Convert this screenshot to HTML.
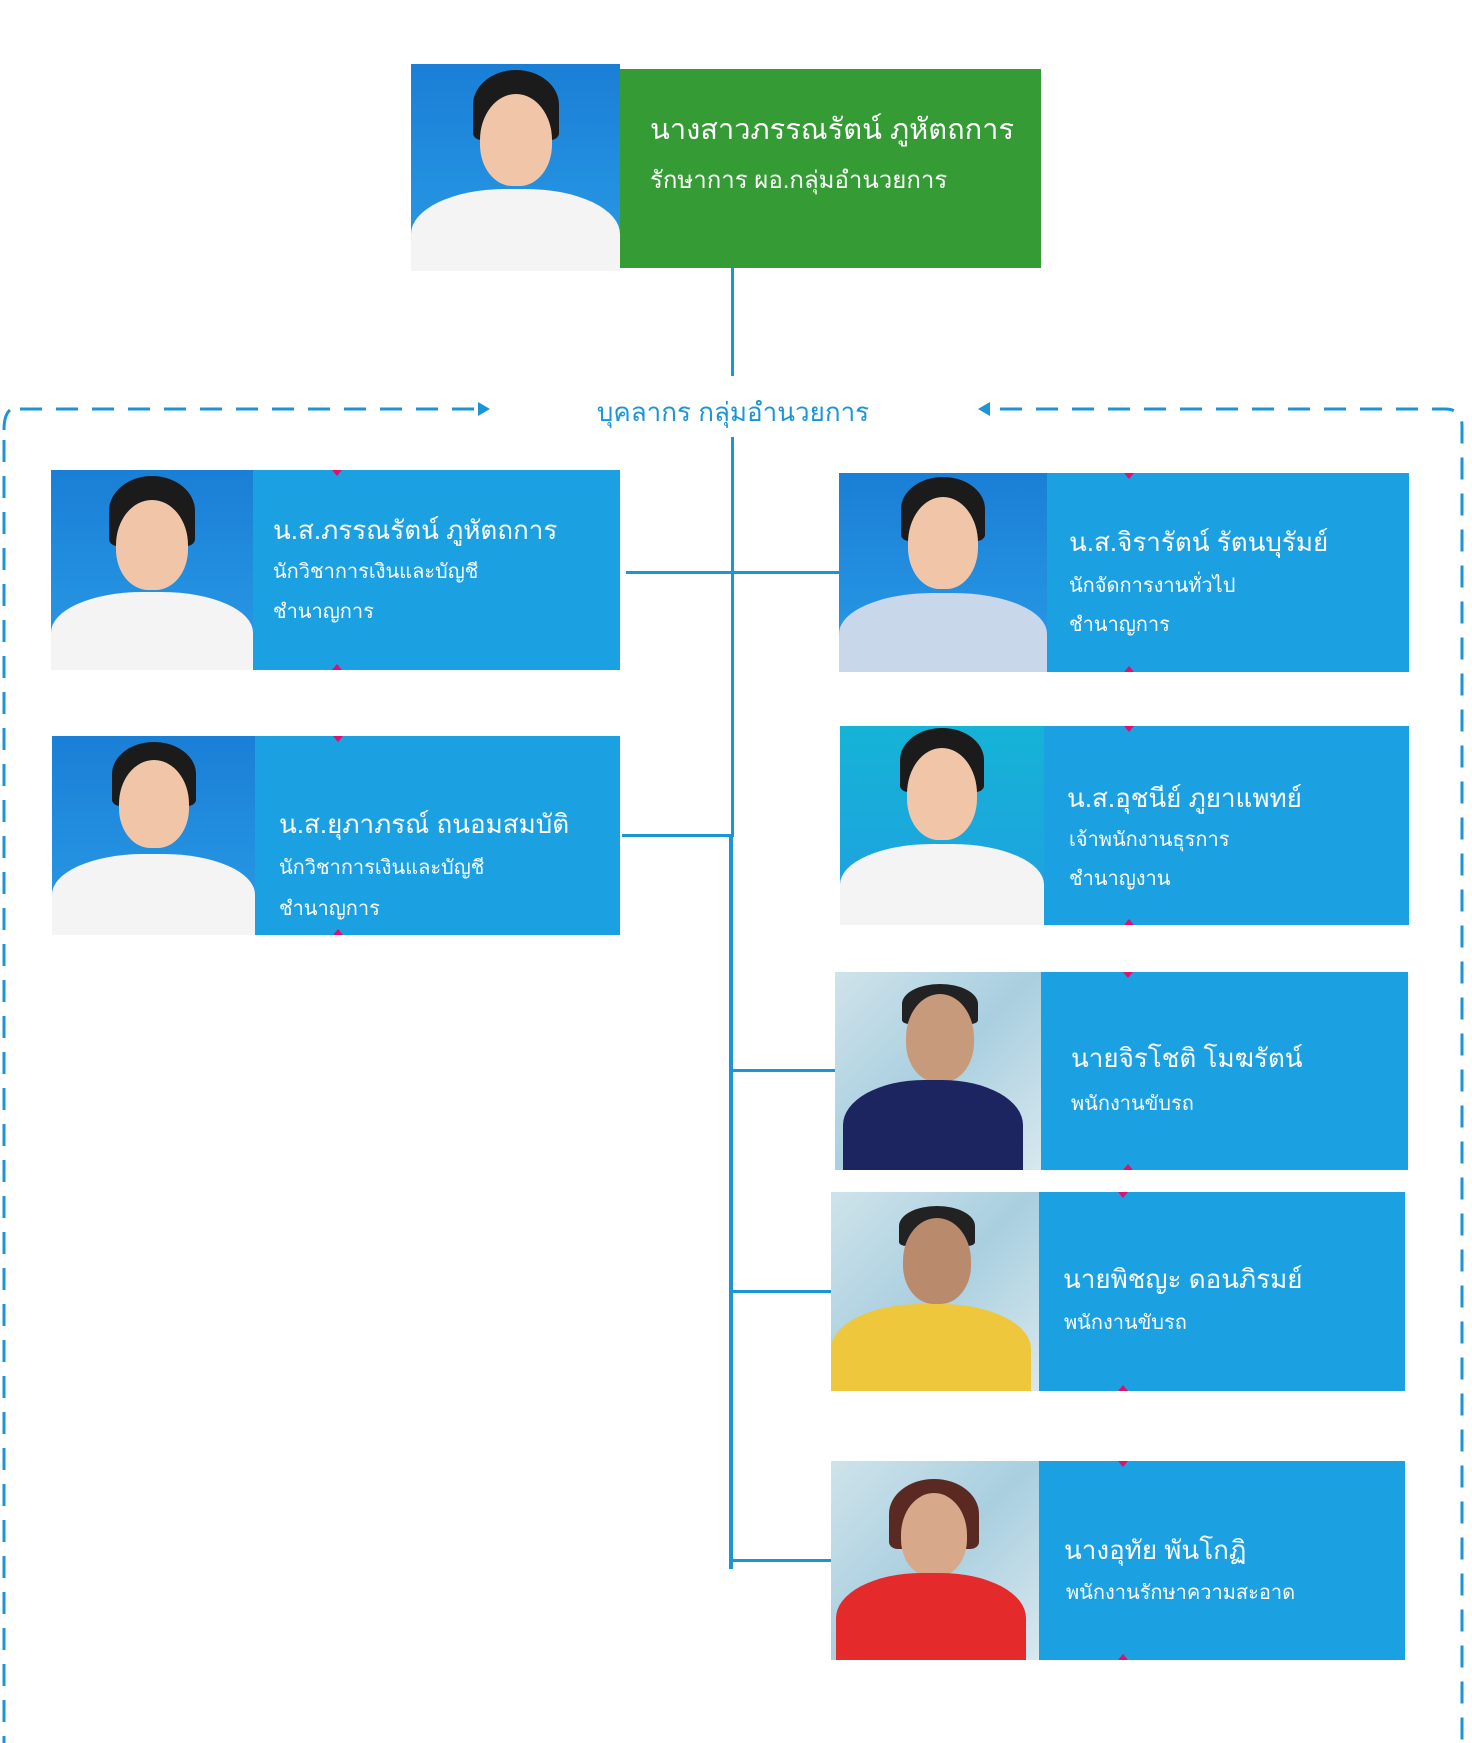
<!DOCTYPE html>
<html><head><meta charset="utf-8"><style>
body{margin:0;width:1472px;height:1743px;background:#fff;position:relative;overflow:hidden;font-family:"Liberation Sans","DejaVu Sans",sans-serif}
.a{position:absolute}
.blue{background:#1ba1e2}
.ph{position:absolute;overflow:hidden;background:linear-gradient(#1a7fd6,#2a9be6)}
.ph.t{background:linear-gradient(#15b3d6,#1fa0e0)}
.ph.w{background:linear-gradient(135deg,#cfe3ea,#a9cfe0 50%,#d8e8ee)}
.head{position:absolute;border-radius:50% 50% 45% 45%;background:#f1c6a8}
.hair{position:absolute;border-radius:50% 50% 10% 10%;background:#1b1b1b}
.body{position:absolute;border-radius:45% 45% 0 0}
.tx{position:absolute;color:#fff;white-space:nowrap}
.n{font-size:26px}
.s{font-size:20px}
.ln{position:absolute;background:#1b95d6}
.mk{position:absolute;width:0;height:0;border-left:5px solid transparent;border-right:5px solid transparent}
.mt{border-top:6px solid #e0106c}
.mb{border-bottom:6px solid #e0106c}
</style></head><body>

<div class="ph" style="left:411px;top:64px;width:209px;height:207px">
 <div class="hair" style="left:62px;top:6px;width:86px;height:70px"></div>
 <div class="head" style="left:69px;top:30px;width:72px;height:92px"></div>
 <div class="body" style="left:0;top:125px;width:209px;height:100px;background:#f4f4f4"></div>
</div>
<div class="a" style="left:620px;top:69px;width:421px;height:199px;background:#359b35"></div>
<div class="tx" style="left:650px;top:106px;font-size:29px">นางสาวภรรณรัตน์ ภูหัตถการ</div>
<div class="tx" style="left:650px;top:160px;font-size:24px">รักษาการ ผอ.กลุ่มอำนวยการ</div>

<div class="ln" style="left:731px;top:268px;width:3px;height:108px"></div>
<div class="a" style="left:560px;top:392px;width:346px;text-align:center;color:#1b95d6;font-size:26px">บุคลากร กลุ่มอำนวยการ</div>

<svg class="a" style="left:0;top:0" width="1472" height="1743">
 <g stroke="#1b95d6" stroke-width="3" fill="none" stroke-dasharray="22,14">
  <path d="M20 409 H478"/>
  <path d="M1000 409 H1445 Q1462 409 1462 426 V1743"/>
  <path d="M4 430 Q4 415 10 410"/>
  <path d="M4 440 V1743"/>
 </g>
 <path d="M478 402 L490 409 L478 416Z" fill="#1b95d6"/>
 <path d="M990 402 L978 409 L990 416Z" fill="#1b95d6"/>
</svg>

<div class="ln" style="left:731px;top:437px;width:3px;height:400px"></div>
<div class="ln" style="left:729px;top:835px;width:4px;height:734px"></div>
<div class="ln" style="left:626px;top:571px;width:213px;height:3px"></div>
<div class="ln" style="left:622px;top:834px;width:110px;height:3px"></div>
<div class="ln" style="left:731px;top:1069px;width:104px;height:3px"></div>
<div class="ln" style="left:731px;top:1290px;width:100px;height:3px"></div>
<div class="ln" style="left:731px;top:1559px;width:100px;height:3px"></div>

<div class="ph" style="left:51px;top:470px;width:202px;height:200px">
 <div class="hair" style="left:58px;top:6px;width:86px;height:70px"></div>
 <div class="head" style="left:65px;top:30px;width:72px;height:90px"></div>
 <div class="body" style="left:0;top:122px;width:202px;height:90px;background:#f4f4f4"></div>
</div>
<div class="a blue" style="left:253px;top:470px;width:367px;height:200px"></div>
<div class="mk mt" style="left:332px;top:470px"></div><div class="mk mb" style="left:332px;top:664px"></div>
<div class="tx n" style="left:273px;top:510px">น.ส.ภรรณรัตน์ ภูหัตถการ</div>
<div class="tx s" style="left:273px;top:555px">นักวิชาการเงินและบัญชี</div>
<div class="tx s" style="left:273px;top:595px">ชำนาญการ</div>

<div class="ph" style="left:52px;top:736px;width:203px;height:199px">
 <div class="hair" style="left:60px;top:6px;width:84px;height:64px"></div>
 <div class="head" style="left:67px;top:24px;width:70px;height:88px"></div>
 <div class="body" style="left:0;top:118px;width:203px;height:90px;background:#f4f4f4"></div>
</div>
<div class="a blue" style="left:255px;top:736px;width:365px;height:199px"></div>
<div class="mk mt" style="left:333px;top:736px"></div><div class="mk mb" style="left:333px;top:929px"></div>
<div class="tx n" style="left:279px;top:804px">น.ส.ยุภาภรณ์ ถนอมสมบัติ</div>
<div class="tx s" style="left:279px;top:851px">นักวิชาการเงินและบัญชี</div>
<div class="tx s" style="left:279px;top:892px">ชำนาญการ</div>

<div class="ph" style="left:839px;top:473px;width:208px;height:199px">
 <div class="hair" style="left:62px;top:4px;width:84px;height:64px"></div>
 <div class="head" style="left:69px;top:24px;width:70px;height:92px"></div>
 <div class="body" style="left:0;top:120px;width:208px;height:90px;background:#c9d7ea"></div>
</div>
<div class="a blue" style="left:1047px;top:473px;width:362px;height:199px"></div>
<div class="mk mt" style="left:1124px;top:473px"></div><div class="mk mb" style="left:1124px;top:666px"></div>
<div class="tx n" style="left:1069px;top:522px">น.ส.จิรารัตน์ รัตนบุรัมย์</div>
<div class="tx s" style="left:1069px;top:569px">นักจัดการงานทั่วไป</div>
<div class="tx s" style="left:1069px;top:608px">ชำนาญการ</div>

<div class="ph t" style="left:840px;top:726px;width:204px;height:199px">
 <div class="hair" style="left:60px;top:2px;width:84px;height:64px"></div>
 <div class="head" style="left:67px;top:22px;width:70px;height:92px"></div>
 <div class="body" style="left:0;top:118px;width:204px;height:90px;background:#f4f4f4"></div>
</div>
<div class="a blue" style="left:1044px;top:726px;width:365px;height:199px"></div>
<div class="mk mt" style="left:1124px;top:726px"></div><div class="mk mb" style="left:1124px;top:919px"></div>
<div class="tx n" style="left:1067px;top:778px">น.ส.อุชนีย์ ภูยาแพทย์</div>
<div class="tx s" style="left:1069px;top:823px">เจ้าพนักงานธุรการ</div>
<div class="tx s" style="left:1069px;top:862px">ชำนาญงาน</div>

<div class="ph w" style="left:835px;top:972px;width:206px;height:198px">
 <div class="hair" style="left:67px;top:12px;width:76px;height:40px;background:#222"></div>
 <div class="head" style="left:71px;top:22px;width:68px;height:88px;background:#c79a7c"></div>
 <div class="body" style="left:8px;top:108px;width:180px;height:100px;background:#1d2560"></div>
</div>
<div class="a blue" style="left:1041px;top:972px;width:367px;height:198px"></div>
<div class="mk mt" style="left:1123px;top:972px"></div><div class="mk mb" style="left:1123px;top:1164px"></div>
<div class="tx n" style="left:1071px;top:1038px">นายจิรโชติ โมฆรัตน์</div>
<div class="tx s" style="left:1071px;top:1087px">พนักงานขับรถ</div>

<div class="ph w" style="left:831px;top:1192px;width:208px;height:199px">
 <div class="hair" style="left:68px;top:14px;width:76px;height:40px;background:#222"></div>
 <div class="head" style="left:72px;top:26px;width:68px;height:86px;background:#b98a6c"></div>
 <div class="body" style="left:0;top:112px;width:200px;height:100px;background:#efc73c"></div>
</div>
<div class="a blue" style="left:1039px;top:1192px;width:366px;height:199px"></div>
<div class="mk mt" style="left:1118px;top:1192px"></div><div class="mk mb" style="left:1118px;top:1385px"></div>
<div class="tx n" style="left:1063px;top:1259px">นายพิชญะ ดอนภิรมย์</div>
<div class="tx s" style="left:1064px;top:1306px">พนักงานขับรถ</div>

<div class="ph w" style="left:831px;top:1461px;width:208px;height:199px">
 <div class="hair" style="left:58px;top:18px;width:90px;height:70px;background:#5a2a22"></div>
 <div class="head" style="left:70px;top:32px;width:66px;height:84px;background:#d8a88a"></div>
 <div class="body" style="left:5px;top:112px;width:190px;height:100px;background:#e42a2a"></div>
</div>
<div class="a blue" style="left:1039px;top:1461px;width:366px;height:199px"></div>
<div class="mk mt" style="left:1118px;top:1461px"></div><div class="mk mb" style="left:1118px;top:1654px"></div>
<div class="tx n" style="left:1064px;top:1530px">นางอุทัย พันโกฏิ</div>
<div class="tx s" style="left:1066px;top:1576px">พนักงานรักษาความสะอาด</div>

</body></html>
